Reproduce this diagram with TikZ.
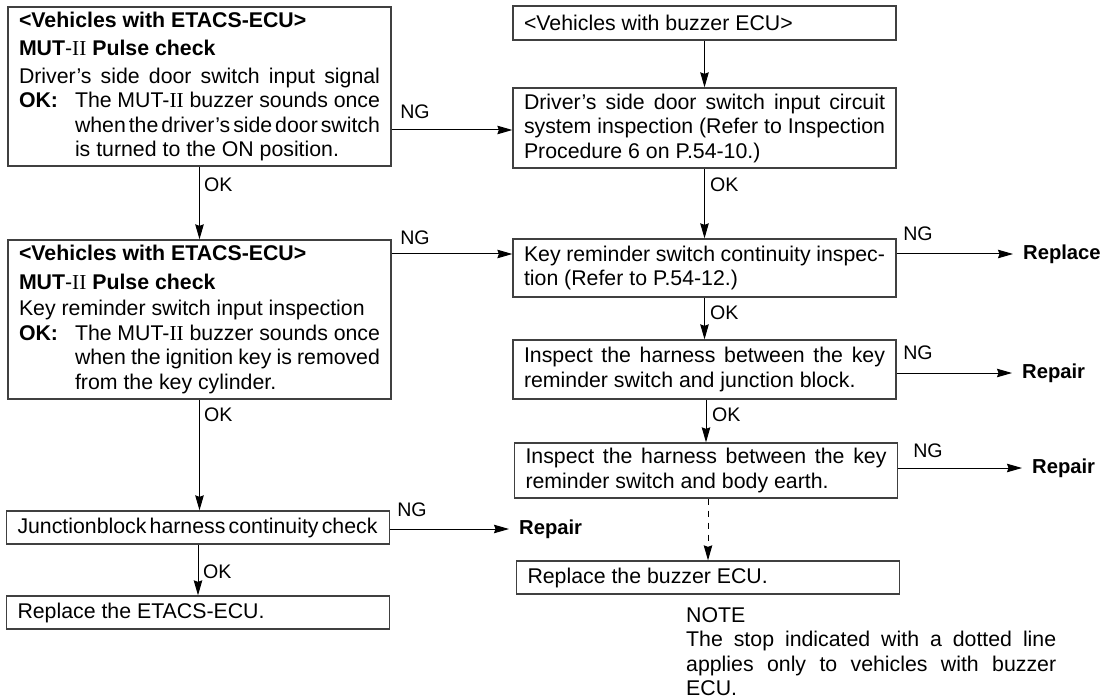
\documentclass[tikz,border=0pt]{standalone}
\usepackage{fontspec}
\setmainfont{Liberation Sans}
\newfontfamily\romfont{Liberation Serif}
\usepackage{tikz}
\usetikzlibrary{arrows.meta, positioning}

\newcommand{\mutroman}{{\romfont II}}
\newcommand{\tightline}[1]{{\spaceskip=0.15em plus 0.3em minus 0.05em #1}}

\begin{document}
\begin{tikzpicture}[x=1pt, y=-1pt,
		box/.style={draw=black!75, line width=1.3pt, align=justify, text width=361pt, inner xsep=11pt, inner ysep=0pt, font=\fontsize{21.3}{24.5}\selectfont},
		flow/.style={line width=1pt, -{Stealth[length=15pt, width=8.5pt, inset=1.5pt]}},
		tag/.style={inner sep=0pt, font=\fontsize{19.6}{22}\selectfont},
		result/.style={anchor=west, inner xsep=10pt, inner ysep=0pt, font=\fontsize{20.2}{22}\selectfont\bfseries}]
			\useasboundingbox (0, 0) rectangle (1107, 700);
			% Boxes, left column:
			\node[box, minimum height=159pt](L1) at (199.5, 86.5){\textbf{<Vehicles with ETACS-ECU>}\\[4pt]
				\textbf{MUT}-\mutroman{} \textbf{Pulse check}\\[3pt]
				\makebox[361pt][s]{Driver's side door switch input signal}\\
				\makebox[56pt][l]{\textbf{OK:}}\parbox[t]{305pt}{\tightline{The MUT-\mutroman{} buzzer sounds once}\linebreak \tightline{when the driver's side door switch}\linebreak is turned to the ON position.}};
			\node[box, minimum height=159pt](L2) at (199.5, 319.5){\textbf{<Vehicles with ETACS-ECU>}\\[4pt]
				\textbf{MUT}-\mutroman{} \textbf{Pulse check}\\[2pt]
				Key reminder switch input inspection\\
				\makebox[56pt][l]{\textbf{OK:}}\parbox[t]{305pt}{\tightline{The MUT-\mutroman{} buzzer sounds once}\linebreak \tightline{when the ignition key is removed}\linebreak from the key cylinder.}};
			\node[box, minimum height=33pt](L3) at (198, 527.5){\tightline{Junctionblock harness continuity check}};
			\node[box, minimum height=33pt](L4) at (198, 612.5){Replace the ETACS-ECU.};
			% Boxes, right column:
			\node[box, minimum height=34pt](R1) at (704.5, 23){<Vehicles with buzzer ECU>};
			\node[box, minimum height=80pt](R2) at (704.5, 128){Driver's side door switch input circuit\linebreak system inspection (Refer to Inspection\linebreak Procedure 6 on P.54-10.)};
			\node[box, minimum height=58pt](R3) at (704.5, 268){Key reminder switch continuity inspec-\linebreak tion (Refer to P.54-12.)};
			\node[box, minimum height=59pt](R4) at (704.5, 369.5){Inspect the harness between the key\linebreak reminder switch and junction block.};
			\node[box, minimum height=55pt](R5) at (706, 470.5){Inspect the harness between the key\linebreak reminder switch and body earth.};
			\node[box, minimum height=33pt](R6) at (708, 577.5){Replace the buzzer ECU.};
			% Results:
			\node[result](T1) at (1013, 254){Replace};
			\node[result](T2) at (1012, 373){Repair};
			\node[result](T3) at (1022, 468){Repair};
			\node[result](T4) at (509, 529){Repair};
			% Arrows:
			\draw[flow] (L1.south) -- (L2.north);
			\draw[flow] (L2.south) -- (L2.south |- L3.north);
			\draw[flow] (L3.south) -- (L3.south |- L4.north);
			\path ([yshift=-2pt]R2.west) coordinate (J1);
			\draw[flow] (L1.east |- J1) -- (J1);
			\draw[flow] (L2.east |- T1) -- (R3.west |- T1);
			\draw[flow] (L3.east |- T4) -- (T4.west);
			\draw[flow] (R1.south) -- (R2.north);
			\draw[flow] (R2.south) -- (R3.north);
			\draw[flow] (R3.south) -- (R4.north);
			\draw[flow] (R5.north |- R4.south) -- (R5.north);
			\draw[flow, dash pattern=on 6pt off 6pt] (R6.north |- R5.south) -- (R6.north);
			\draw[flow] (R3.east |- T1) -- (T1.west);
			\draw[flow] (R4.east |- T2) -- (T2.west);
			\draw[flow] (R5.east |- T3) -- (T3.west);
			% Labels:
			\node[tag](G1) at (415, 112){NG};
			\node[tag](G2) at (415, 238){NG};
			\node[tag](G3) at (918, 234){NG};
			\node[tag](G4) at (918, 353){NG};
			\node[tag](G5) at (928, 451){NG};
			\node[tag](G6) at (412, 510){NG};
			\node[tag, anchor=west](K1) at (204, 185){OK};
			\node[tag, anchor=west](K2) at (204, 415){OK};
			\node[tag, anchor=west](K3) at (203, 572){OK};
			\node[tag, anchor=west](K4) at (710, 185){OK};
			\node[tag, anchor=west](K5) at (710, 313){OK};
			\node[tag, anchor=west](K6) at (712, 415){OK};
			% Note:
			\node[anchor=north west, inner sep=0pt, text width=370pt, align=justify, font=\fontsize{21.3}{24.5}\selectfont](N1) at (686, 607){NOTE\\The stop indicated with a dotted line\linebreak applies only to vehicles with buzzer\linebreak ECU.};
		\end{tikzpicture}
\end{document}
